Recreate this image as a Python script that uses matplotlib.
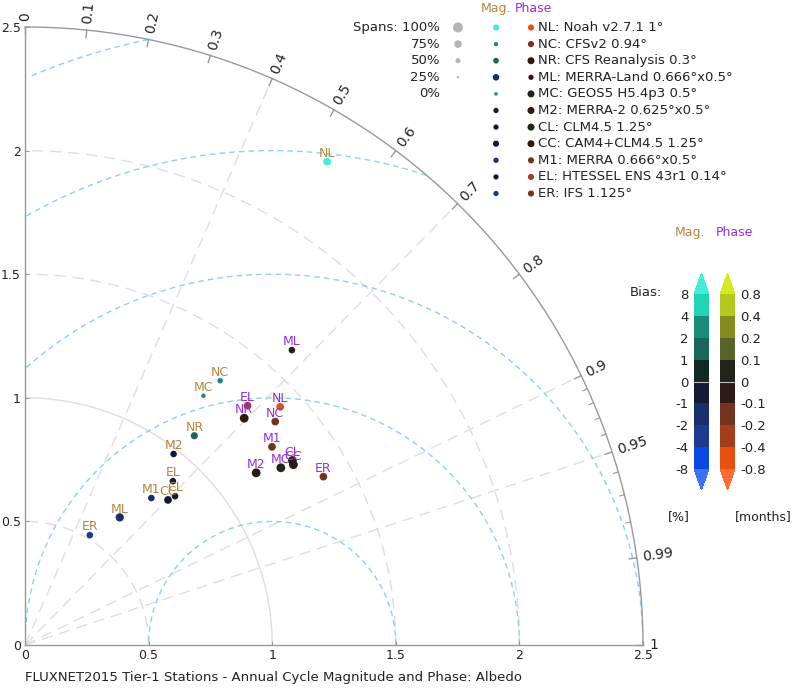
import numpy as np
import matplotlib
matplotlib.use('Agg')
import matplotlib.pyplot as plt
from matplotlib.colors import ListedColormap, BoundaryNorm

# ---------------- data ----------------
codes = ['NL', 'NC', 'NR', 'ML', 'MC', 'M2', 'CL', 'CC', 'M1', 'EL', 'ER']
names = ['Noah v2.7.1 1°', 'CFSv2 0.94°', 'CFS Reanalysis 0.3°',
         'MERRA-Land 0.666°x0.5°', 'GEOS5 H5.4p3 0.5°', 'MERRA-2 0.625°x0.5°',
         'CLM4.5 1.25°', 'CAM4+CLM4.5 1.25°', 'MERRA 0.666°x0.5°',
         'HTESSEL ENS 43r1 0.14°', 'IFS 1.125°']

# normalised std and correlation of the annual-cycle magnitude
mag_std = [2.306, 1.329, 1.089, 0.643, 1.240, 0.979, 0.855, 0.824, 0.784, 0.893, 0.516]
mag_corr = [0.530, 0.594, 0.629, 0.596, 0.582, 0.614, 0.710, 0.702, 0.652, 0.670, 0.508]
mag_bias = [10, 3, 1.5, -1.5, 3, -0.5, -0.5, -0.5, -1.5, -0.5, -3]
mag_span = [0.70, 0.50, 0.65, 0.75, 0.40, 0.60, 0.60, 0.70, 0.60, 0.60, 0.60]

# normalised std and correlation of the annual-cycle phase
phase_std = [1.412, 1.357, 1.276, 1.609, 1.259, 1.166, 1.314, 1.308, 1.281, 1.322, 1.386]
phase_corr = [0.731, 0.746, 0.695, 0.671, 0.822, 0.802, 0.823, 0.830, 0.780, 0.681, 0.871]
phase_bias = [-0.6, -0.15, -0.05, -0.05, 0.05, -0.05, 0.05, -0.05, -0.15, -0.3, -0.15]
phase_span = [0.70, 0.70, 0.80, 0.60, 0.80, 0.80, 0.80, 0.80, 0.70, 0.70, 0.70]

corr_ticks = [0, 0.1, 0.2, 0.3, 0.4, 0.5, 0.6, 0.7, 0.8, 0.9, 0.95, 0.99, 1]
corr_labels = ['0', '0.1', '0.2', '0.3', '0.4', '0.5', '0.6', '0.7', '0.8', '0.9', '0.95', '0.99', '1']
corr_minor = [0.91, 0.92, 0.93, 0.94, 0.96, 0.97, 0.98]
corr_grid = [0.4, 0.7, 0.9, 0.95]
std_ticks = [0, 0.5, 1, 1.5, 2, 2.5]
std_tick_labels = ['0', '0.5', '1', '1.5', '2', '2.5']
std_grid = [0.5, 1.5, 2.0]
rms_levels = [0.5, 1.0, 1.5, 2.0, 2.5]
span_levels = [1.0, 0.75, 0.5, 0.25, 0.0]
span_labels = ['Spans: 100%', '75%', '50%', '25%', '0%']

mag_bounds = [-8, -4, -2, -1, 0, 1, 2, 4, 8]
mag_tick_labels = ['-8', '-4', '-2', '-1', '0', '1', '2', '4', '8']
phase_bounds = [-0.8, -0.4, -0.2, -0.1, 0, 0.1, 0.2, 0.4, 0.8]
phase_tick_labels = ['-0.8', '-0.4', '-0.2', '-0.1', '0', '0.1', '0.2', '0.4', '0.8']

mag_colors = ['#0a48e6', '#1a3b8f', '#1b2e6c', '#121a36', '#0f2a24', '#1a6658', '#1c8a78', '#22d4b6']
mag_under, mag_over = '#3c72f5', '#40eedc'
phase_colors = ['#e8500f', '#a43e1a', '#72341c', '#2c1a14', '#22241a', '#586428', '#848c1e', '#b4c81e']
phase_under, phase_over = '#ff6a30', '#d4ea22'

title = 'FLUXNET2015 Tier-1 Stations - Annual Cycle Magnitude and Phase: Albedo'

MAG_TXT = '#b0883c'
PH_TXT = '#9030e0'
GRID = '#dedede'
RMS = '#8ccff5'
AXC = '#999999'

# ---------------- figure ----------------
W, H = 800, 691
fig = plt.figure(figsize=(W / 100, H / 100), dpi=100)
plt.rcParams['font.family'] = ['DejaVu Sans']

ax = fig.add_axes([25 / W, 46 / H, 618 / W, 618 / H])
ax.patch.set_visible(False)
RMAX = 2.5
ax.set_xlim(0, RMAX)
ax.set_ylim(0, RMAX)
for s in ['top', 'right']:
    ax.spines[s].set_visible(False)
for s in ['left', 'bottom']:
    ax.spines[s].set_color(AXC)
    ax.spines[s].set_linewidth(1.0)
ax.set_xticks(std_ticks)
ax.set_xticklabels(std_tick_labels)
ax.set_yticks(std_ticks)
ax.set_yticklabels(std_tick_labels)
ax.tick_params(direction='in', length=3, color=AXC, labelsize=9, labelcolor='#222222', pad=3)

mag_cmap = ListedColormap(mag_colors).with_extremes(under=mag_under, over=mag_over)
mag_norm = BoundaryNorm(mag_bounds, len(mag_colors))
ph_cmap = ListedColormap(phase_colors).with_extremes(under=phase_under, over=phase_over)
ph_norm = BoundaryNorm(phase_bounds, len(phase_colors))

th = np.linspace(0, np.pi / 2, 300)
# outer arc
ax.plot(RMAX * np.cos(th), RMAX * np.sin(th), color=AXC, lw=1.0, clip_on=False, zorder=3)

# std arcs about origin
for r in std_grid:
    ax.plot(r * np.cos(th), r * np.sin(th), color=GRID, lw=1.0, ls=(0, (8, 5)), zorder=1)
ax.plot(1.0 * np.cos(th), 1.0 * np.sin(th), color=GRID, lw=1.0, zorder=1)

# radial correlation lines
for c in corr_grid:
    a = np.arccos(c)
    ax.plot([0, RMAX * np.cos(a)], [0, RMAX * np.sin(a)], color=GRID, lw=1.0,
            ls=(0, (8, 5)), zorder=1)

# centred RMS circles about reference point (1,0)
tt = np.linspace(0, np.pi, 600)
for r in rms_levels:
    x = 1 + r * np.cos(tt)
    y = r * np.sin(tt)
    m = (x >= 0) & (x ** 2 + y ** 2 <= RMAX ** 2)
    x = np.where(m, x, np.nan)
    y = np.where(m, y, np.nan)
    ax.plot(x, y, color=RMS, lw=1.0, ls=(0, (4, 3)), zorder=1)

# correlation ticks & labels
for c, lab in zip(corr_ticks, corr_labels):
    a = np.arccos(c)
    ax.plot([2.47 * np.cos(a), RMAX * np.cos(a)], [2.47 * np.sin(a), RMAX * np.sin(a)],
            color=AXC, lw=1.0, clip_on=False)
    rr = RMAX + 0.025
    ax.text(rr * np.cos(a), rr * np.sin(a), lab, rotation=np.degrees(a),
            rotation_mode='anchor', ha='left', va='center', fontsize=10,
            color='#222222', clip_on=False)
for c in corr_minor:
    a = np.arccos(c)
    ax.plot([2.48 * np.cos(a), RMAX * np.cos(a)], [2.48 * np.sin(a), RMAX * np.sin(a)],
            color=AXC, lw=0.8, clip_on=False)


def dsize(span, scale=1.0):
    d = 11.0 * span * scale  # diameter in px
    return (d * 0.72) ** 2


mstd = np.array(mag_std); mcor = np.array(mag_corr)
pstd = np.array(phase_std); pcor = np.array(phase_corr)
mx, my = mstd * mcor, mstd * np.sqrt(1 - mcor ** 2)
px, py = pstd * pcor, pstd * np.sqrt(1 - pcor ** 2)

ax.scatter(mx, my, s=[dsize(s) for s in mag_span], c=mag_bias, cmap=mag_cmap,
           norm=mag_norm, edgecolors='none', zorder=4, clip_on=False)
for i, code in enumerate(codes):
    ax.annotate(code, (mx[i], my[i]), xytext=(0, 3.5), textcoords='offset points',
                ha='center', va='baseline', fontsize=9, color=MAG_TXT, zorder=5)
ax.scatter(px, py, s=[dsize(s) for s in phase_span], c=phase_bias, cmap=ph_cmap,
           norm=ph_norm, edgecolors='none', zorder=4, clip_on=False)
for i, code in enumerate(codes):
    ax.annotate(code, (px[i], py[i]), xytext=(0, 3.5), textcoords='offset points',
                ha='center', va='baseline', fontsize=9, color=PH_TXT, zorder=5)

# ---------------- legend (pixel overlay) ----------------
ov = fig.add_axes([0, 0, 1, 1], zorder=10)
ov.set_xlim(0, W)
ov.set_ylim(H, 0)
ov.axis('off')

row0, dy = 27.5, 16.6
ov.text(496, 8, 'Mag.', color=MAG_TXT, fontsize=9, ha='center', va='center')
ov.text(533, 8, 'Phase', color=PH_TXT, fontsize=9, ha='center', va='center')
for k, (sp, lab) in enumerate(zip(span_levels, span_labels)):
    y = row0 + k * dy
    ov.text(440, y, lab, ha='right', va='center', fontsize=9.5, color='#222222')
    if sp > 0:
        ov.scatter([458], [y], s=(10.0 * sp * 0.72) ** 2, color='#b4b4b4', edgecolors='none')
for i, (code, nm) in enumerate(zip(codes, names)):
    y = row0 + i * dy
    ov.scatter([496], [y], s=dsize(mag_span[i], 0.8), c=[mag_bias[i]], cmap=mag_cmap,
               norm=mag_norm, edgecolors='none')
    ov.scatter([531], [y], s=dsize(phase_span[i], 0.8), c=[phase_bias[i]], cmap=ph_cmap,
               norm=ph_norm, edgecolors='none')
    ov.text(538, y, f'{code}: {nm}', ha='left', va='center', fontsize=9.5, color='#222222')

# ---------------- colourbars ----------------
cb_top, cb_bot = 273, 490
ext = 26 / (cb_bot - cb_top)
cax1 = fig.add_axes([694 / W, (H - cb_bot) / H, 15 / W, (cb_bot - cb_top) / H])
cax2 = fig.add_axes([720 / W, (H - cb_bot) / H, 15 / W, (cb_bot - cb_top) / H])
sm1 = plt.cm.ScalarMappable(norm=mag_norm, cmap=mag_cmap)
sm2 = plt.cm.ScalarMappable(norm=ph_norm, cmap=ph_cmap)
cb1 = fig.colorbar(sm1, cax=cax1, extend='both', extendfrac=ext, ticks=mag_bounds)
cb2 = fig.colorbar(sm2, cax=cax2, extend='both', extendfrac=ext, ticks=phase_bounds)
cb1.ax.yaxis.set_ticks_position('left')
cb1.ax.yaxis.set_label_position('left')
cb1.set_ticklabels(mag_tick_labels)
cb2.set_ticklabels(phase_tick_labels)
for cb in (cb1, cb2):
    cb.outline.set_visible(False)
    cb.ax.tick_params(length=0, labelsize=9.5, labelcolor='#222222', pad=4)
    cb.ax.axhline(0, color='#bbbbbb', lw=0.8)

ov.text(662, 292, 'Bias:', ha='right', va='center', fontsize=9.5, color='#222222')
ov.text(690, 232, 'Mag.', ha='center', va='center', fontsize=9, color=MAG_TXT)
ov.text(734, 232, 'Phase', ha='center', va='center', fontsize=9, color=PH_TXT)
ov.text(679, 517, '[%]', ha='center', va='center', fontsize=9, color='#222222')
ov.text(763, 517, '[months]', ha='center', va='center', fontsize=9, color='#222222')

ov.text(25, 677, title, ha='left', va='center', fontsize=9.5, color='#222222')

fig.savefig('out.png', dpi=100)
